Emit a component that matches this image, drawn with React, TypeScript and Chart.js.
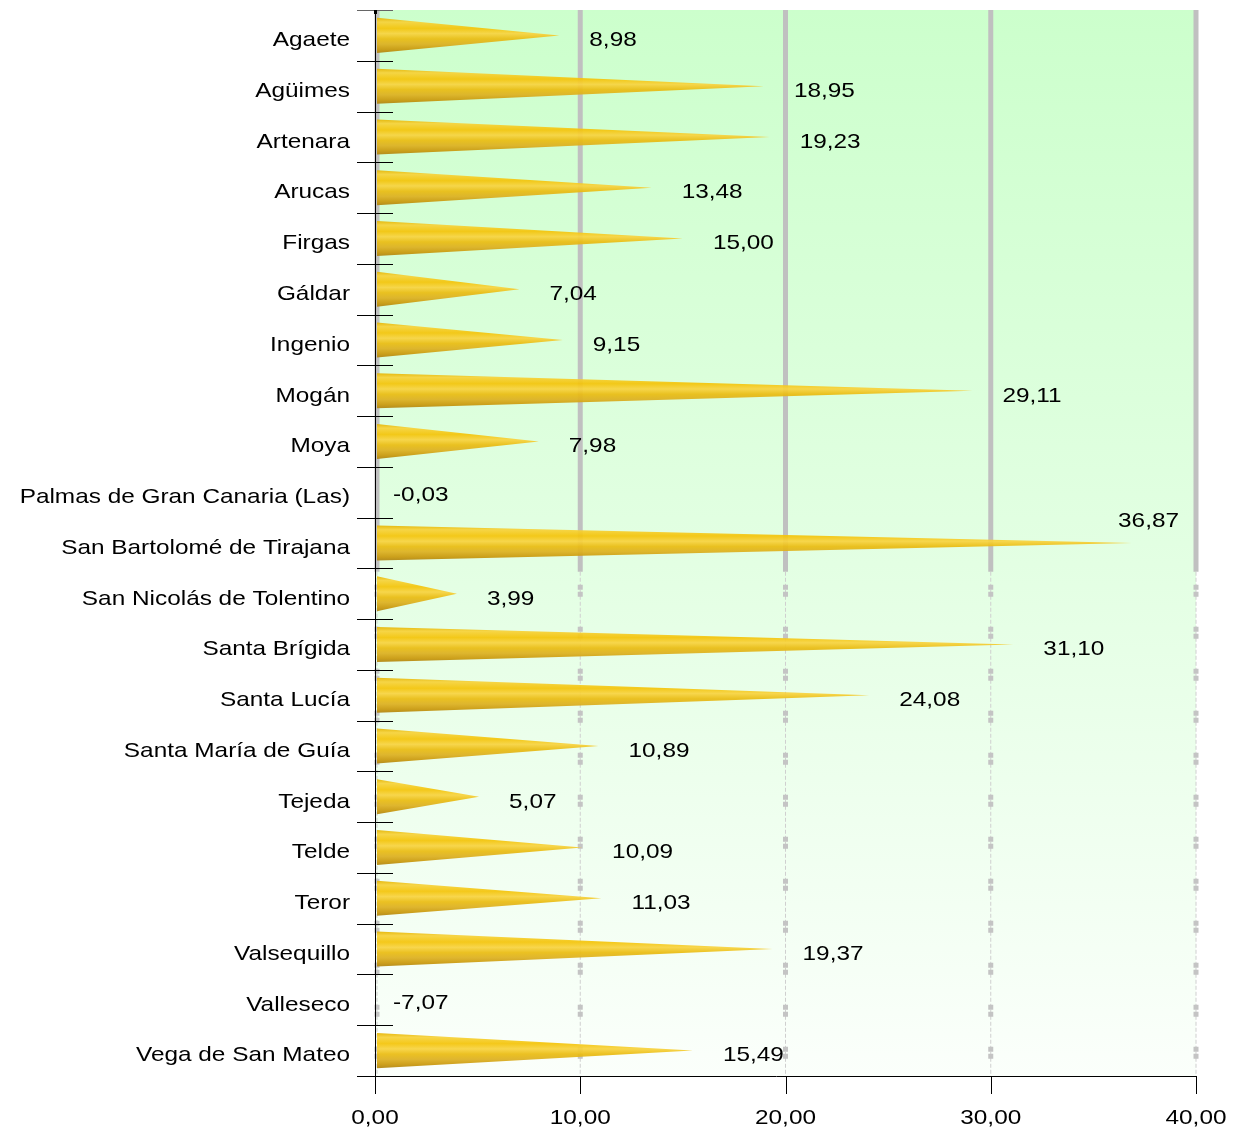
import React, { useEffect, useRef } from "react";
import { Chart, registerables } from "chart.js";

Chart.register(...registerables);

const categories = [
  "Agaete",
  "Agüimes",
  "Artenara",
  "Arucas",
  "Firgas",
  "Gáldar",
  "Ingenio",
  "Mogán",
  "Moya",
  "Palmas de Gran Canaria (Las)",
  "San Bartolomé de Tirajana",
  "San Nicolás de Tolentino",
  "Santa Brígida",
  "Santa Lucía",
  "Santa María de Guía",
  "Tejeda",
  "Telde",
  "Teror",
  "Valsequillo",
  "Valleseco",
  "Vega de San Mateo",
];

const values = [
  8.98, 18.95, 19.23, 13.48, 15.0, 7.04, 9.15, 29.11, 7.98, -0.03, 36.87, 3.99,
  31.1, 24.08, 10.89, 5.07, 10.09, 11.03, 19.37, -7.07, 15.49,
];

const xTicks = [0, 10, 20, 30, 40];

const fmt = (v: number) => v.toFixed(2).replace(".", ",");

const FONT = '21px "Liberation Sans", Arial, sans-serif';
const SX = 1.16;

function txt(ctx: CanvasRenderingContext2D, s: string, x: number, y: number, align: CanvasTextAlign) {
  ctx.save();
  ctx.translate(x, y);
  ctx.scale(SX, 1);
  ctx.font = FONT;
  ctx.fillStyle = "#000";
  ctx.textAlign = align;
  ctx.textBaseline = "middle";
  ctx.fillText(s, 0, 0);
  ctx.restore();
}

const conePlugin = {
  id: "cone",
  beforeDatasetsDraw(chart: any) {
    const { ctx, chartArea: ca, scales } = chart;
    const xs = scales.x;
    ctx.save();
    const bg = ctx.createLinearGradient(0, ca.top, 0, ca.bottom);
    bg.addColorStop(0, "#ccffcc");
    bg.addColorStop(0.5, "#e2ffe2");
    bg.addColorStop(1, "#fbfffb");
    ctx.fillStyle = bg;
    ctx.fillRect(ca.left, ca.top, ca.right - ca.left, ca.bottom - ca.top);
    const split = ca.top + (ca.bottom - ca.top) * 0.527;
    xTicks.forEach((t) => {
      const gx = xs.getPixelForValue(t) + (t === 0 ? 2 : 0);
      ctx.strokeStyle = "#c0c0c0";
      ctx.lineWidth = 5;
      ctx.setLineDash([]);
      ctx.beginPath();
      ctx.moveTo(gx, ca.top);
      ctx.lineTo(gx, split);
      ctx.stroke();
      ctx.lineWidth = 1;
      ctx.strokeStyle = "#cfcfcf";
      ctx.setLineDash([4, 2]);
      ctx.beginPath();
      ctx.moveTo(gx, split);
      ctx.lineTo(gx, ca.bottom);
      ctx.stroke();
      ctx.lineWidth = 5;
      ctx.strokeStyle = "#c4c4c4";
      ctx.setLineDash([5, 2, 5, 30]);
      ctx.beginPath();
      ctx.moveTo(gx, split + 13);
      ctx.lineTo(gx, ca.bottom);
      ctx.stroke();
    });
    ctx.setLineDash([]);
    ctx.restore();
  },
  afterDatasetsDraw(chart: any) {
    const { ctx, chartArea: ca, scales } = chart;
    const xs = scales.x;
    const ys = scales.y;
    const meta = chart.getDatasetMeta(0);
    const axisX = xs.getPixelForValue(0);
    ctx.save();
    meta.data.forEach((bar: any, i: number) => {
      if (values[i] <= 0) return;
      const p = bar.getProps(["x", "y", "base", "height"], true);
      const top = p.y - p.height / 2;
      const bot = p.y + p.height / 2;
      const g = ctx.createLinearGradient(0, top, 0, bot);
      g.addColorStop(0, "#e6b400");
      g.addColorStop(0.12, "#f7d23a");
      g.addColorStop(0.3, "#f4c40a");
      g.addColorStop(0.45, "#f8d340");
      g.addColorStop(0.6, "#eabc12");
      g.addColorStop(0.75, "#ddb020");
      g.addColorStop(0.9, "#c9980c");
      g.addColorStop(1, "#b08410");
      ctx.globalAlpha = 0.93;
      ctx.fillStyle = g;
      ctx.beginPath();
      ctx.moveTo(p.base + 2, top);
      ctx.lineTo(p.x, p.y);
      ctx.lineTo(p.base + 2, bot);
      ctx.closePath();
      ctx.fill();
      ctx.globalAlpha = 1;
    });
    const n = categories.length;
    const rowH = (ys.bottom - ys.top) / n;
    ctx.strokeStyle = "#000";
    ctx.lineWidth = 1;
    ctx.beginPath();
    ctx.moveTo(Math.round(axisX) + 0.5, ca.top);
    ctx.lineTo(Math.round(axisX) + 0.5, ca.bottom + 18);
    ctx.stroke();
    for (let i = 0; i <= n; i++) {
      const by = Math.round(ys.top + rowH * i) + 0.5;
      ctx.strokeStyle = i === 0 ? "#666" : "#000";
      ctx.beginPath();
      ctx.moveTo(axisX - 18, by);
      ctx.lineTo(i === n ? ca.right : axisX + 18, by);
      ctx.stroke();
    }
    ctx.strokeStyle = "#000";
    xTicks.forEach((t) => {
      const tx = Math.round(xs.getPixelForValue(t)) + 0.5;
      ctx.beginPath();
      ctx.moveTo(tx, ca.bottom);
      ctx.lineTo(tx, ca.bottom + 18);
      ctx.stroke();
      txt(ctx, fmt(t), xs.getPixelForValue(t), ca.bottom + 42, "center");
    });
    ctx.fillStyle = "#000";
    ctx.fillRect(axisX - 1, ca.top, 3, 4);
    categories.forEach((c, i) => {
      const cy = ys.getPixelForValue(i);
      txt(ctx, c, axisX - 25, cy + 5, "right");
    });
    ctx.font = FONT;
    values.forEach((v, i) => {
      const cy = ys.getPixelForValue(i);
      const s = fmt(v);
      const w = ctx.measureText(s).width * SX;
      if (v <= 0) {
        txt(ctx, s, axisX + 18, cy + 3, "left");
        return;
      }
      const end = xs.getPixelForValue(v);
      const left = end + 30;
      if (left + w > ca.right - 10) {
        txt(ctx, s, ca.right - 17, cy - 22, "right");
      } else {
        txt(ctx, s, left, cy + 5, "left");
      }
    });
    ctx.restore();
  },
};

export default function App() {
  const ref = useRef<HTMLCanvasElement | null>(null);
  useEffect(() => {
    if (!ref.current) return;
    const chart = new Chart(ref.current, {
      type: "bar",
      data: {
        labels: categories,
        datasets: [
          {
            data: values,
            backgroundColor: "rgba(0,0,0,0)",
            borderWidth: 0,
            barPercentage: 0.69,
            categoryPercentage: 1,
          },
        ],
      },
      options: {
        indexAxis: "y",
        animation: false,
        responsive: false,
        devicePixelRatio: 1,
        layout: { padding: { left: 375, right: 38, top: 10, bottom: 59 } },
        plugins: { legend: { display: false }, tooltip: { enabled: false } },
        scales: {
          x: { display: false, min: 0, max: 40 },
          y: { display: false, offset: true },
        },
      },
      plugins: [conePlugin],
    } as any);
    return () => chart.destroy();
  }, []);
  return (
    <div style={{ position: "absolute", left: 0, top: 0, width: 1234, height: 1135, background: "#fff" }}>
      <canvas ref={ref} width={1234} height={1135} style={{ width: 1234, height: 1135 }} />
    </div>
  );
}
